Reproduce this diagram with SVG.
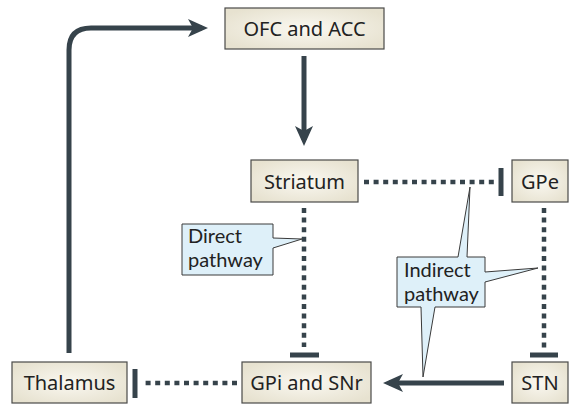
<svg xmlns="http://www.w3.org/2000/svg" width="570" height="405" viewBox="0 0 570 405">
<defs>
<radialGradient id="bg" cx="50%" cy="50%" r="60%">
<stop offset="0" stop-color="#faf8f1"/>
<stop offset="1" stop-color="#e7e2d0"/>
</radialGradient>
<marker id="ah" viewBox="0 0 20 20" refX="14" refY="10" markerWidth="20" markerHeight="20" markerUnits="userSpaceOnUse" orient="auto">
<path d="M0,1 L20,10 L0,19 L5,10 Z" fill="#36434b"/>
</marker>
</defs>
<style>
.box{fill:url(#bg);stroke:#4a4a48;stroke-width:1.2}
.lbl{font-family:"Noto Sans",sans-serif;font-size:20px;fill:#222;text-anchor:middle}
.call{fill:#def0f9;stroke:#3a3a3a;stroke-width:1}
.ct{font-family:Lato,"Noto Sans",sans-serif;font-size:20px;fill:#222}
.solid{fill:none;stroke:#36434b;stroke-width:5}
.dot{fill:none;stroke:#36434b;stroke-width:4.5;stroke-dasharray:5 4.6}
.bar{stroke:#36434b;stroke-width:5}
</style>
<g id="connectors">
<path class="solid" d="M69,353 V50 Q69,28 91,28 H202" marker-end="url(#ah)"/>
<path class="solid" d="M304,56 V140" marker-end="url(#ah)"/>
<path class="solid" d="M504,383 H389" marker-end="url(#ah)"/>
<path class="dot" d="M364,182 H497"/>
<line class="bar" x1="501" y1="168" x2="501" y2="196"/>
<path class="dot" d="M304,208 V347"/>
<line class="bar" x1="290" y1="355" x2="319" y2="355"/>
<path class="dot" d="M544,208 V349"/>
<line class="bar" x1="530" y1="355" x2="558" y2="355"/>
<path class="dot" d="M237,383 H141"/>
<line class="bar" x1="135" y1="369" x2="135" y2="398"/>
</g>
<g id="ofc"><rect class="box" x="225" y="8" width="159" height="41"/><text class="lbl" x="304.5" y="35.5">OFC and ACC</text></g>
<g id="striatum"><rect class="box" x="251" y="160" width="107" height="42"/><text class="lbl" x="304.5" y="188.5">Striatum</text></g>
<g id="gpe"><rect class="box" x="512" y="160" width="56" height="42"/><text class="lbl" x="540" y="188.5">GPe</text></g>
<g id="thalamus"><rect class="box" x="12" y="362" width="115" height="41"/><text class="lbl" x="69.5" y="389.5">Thalamus</text></g>
<g id="gpi"><rect class="box" x="242" y="362" width="129" height="41"/><text class="lbl" x="306.5" y="389.5">GPi and SNr</text></g>
<g id="stn"><rect class="box" x="512" y="362" width="56" height="41"/><text class="lbl" x="540" y="389.5">STN</text></g>
<g id="direct-callout">
<path class="call" d="M182,224 H273 V238 L302,239 L273,248 V275 H182 Z"/>
<text class="ct"><tspan x="188" y="243">Direct</tspan><tspan x="188" y="267">pathway</tspan></text>
</g>
<g id="indirect-callout">
<path class="call" d="M397,257 H458 L470,187 L467,257 H485 V272 L538,268 L485,282 V307 H435 L423,377 L421,307 H397 Z"/>
<text class="ct"><tspan x="404" y="277">Indirect</tspan><tspan x="404" y="301">pathway</tspan></text>
</g>
</svg>
